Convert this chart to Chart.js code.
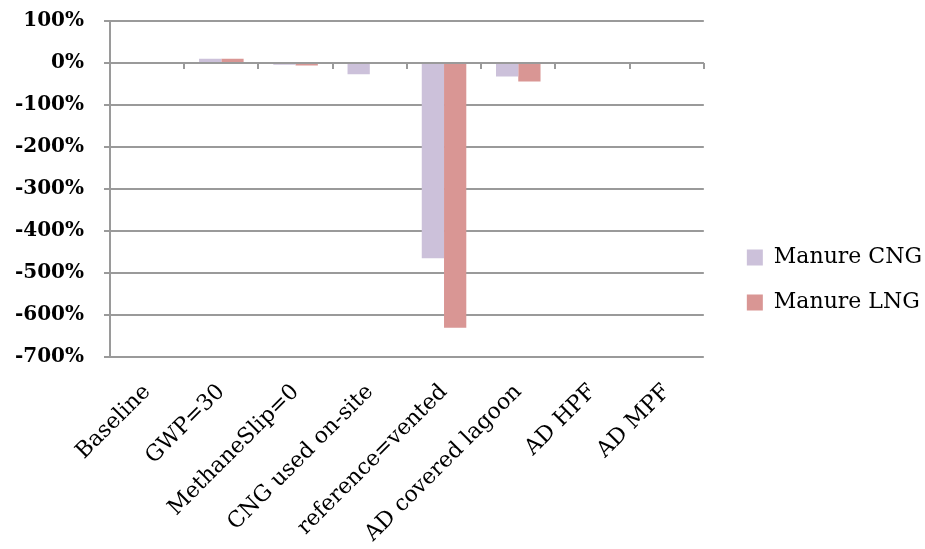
<!DOCTYPE html>
<html>
<head>
<meta charset="utf-8">
<script src="https://cdn.jsdelivr.net/npm/chart.js@4/dist/chart.umd.min.js"></script>
<style>
  html, body { margin: 0; padding: 0; background: #ffffff; }
  #wrap { width: 925px; height: 549px; position: relative; }
</style>
</head>
<body>
<div id="wrap"><canvas id="chart"></canvas></div>
<script>
// Scenario labels along the horizontal axis
const categories = [
  'Baseline', 'GWP=30', 'MethaneSlip=0', 'CNG used on-site',
  'reference=vented', 'AD covered lagoon', 'AD HPF', 'AD MPF'
];
// Percentage change per scenario
const manureCNG = [0, 10, -4, -27, -465, -32, 0, 0];
const manureLNG = [0, 10, -6, 0, -630, -44, 0, 0];
// Value axis ticks (percent)
const yTicks = [100, 0, -100, -200, -300, -400, -500, -600, -700];

const gridColor = '#9a9a9a';
const legendExtraWidth = 13;
const legendShift = 20;
const legendLift = 5;

// Horizontal axis line at zero with small tick marks between categories
const zeroAxis = {
  id: 'zeroAxis',
  afterDatasetsDraw(chart) {
    const { ctx, chartArea, scales: { x, y } } = chart;
    const y0 = y.getPixelForValue(0);
    const n = categories.length;
    const step = (x.right - x.left) / n;
    ctx.save();
    ctx.strokeStyle = gridColor;
    ctx.lineWidth = 2;
    ctx.beginPath();
    ctx.moveTo(chartArea.left, y0);
    ctx.lineTo(chartArea.right, y0);
    for (let i = 0; i <= n; i++) {
      const px = Math.round(x.left + i * step);
      ctx.moveTo(px, y0);
      ctx.lineTo(px, y0 + 6);
    }
    ctx.stroke();
    ctx.restore();
  }
};

// Leaves some white space between the plot and the legend entries
const legendGap = {
  id: 'legendGap',
  afterInit(chart) {
    const legend = chart.legend;
    if (!legend) return;
    const baseFit = legend.fit.bind(legend);
    legend.fit = function () {
      baseFit();
      this.width += legendExtraWidth;
    };
  },
  afterLayout(chart) {
    const legend = chart.legend;
    if (!legend) return;
    legend.left += legendShift;
    legend.top -= legendLift;
    legend.bottom -= legendLift;
  }
};

Chart.defaults.font.family = "'DejaVu Serif', serif";
Chart.defaults.color = '#000000';

new Chart(document.getElementById('chart'), {
  type: 'bar',
  data: {
    labels: categories,
    datasets: [
      { label: 'Manure CNG', data: manureCNG, backgroundColor: '#ccc1da', borderWidth: 0 },
      { label: 'Manure LNG', data: manureLNG, backgroundColor: '#d99694', borderWidth: 0 }
    ]
  },
  options: {
    responsive: true,
    maintainAspectRatio: false,
    animation: false,
    devicePixelRatio: 1,
    layout: { padding: { top: 21, left: 0, right: 0, bottom: 0 } },
    datasets: { bar: { categoryPercentage: 0.6, barPercentage: 1.0 } },
    plugins: {
      tooltip: { enabled: false },
      legend: {
        position: 'right',
        align: 'center',
        labels: {
          boxWidth: 16,
          boxHeight: 16,
          padding: 23,
          font: { size: 22 },
          color: '#000000'
        }
      }
    },
    scales: {
      x: {
        grid: { display: false },
        border: { display: false },
        afterFit(scale) {
          scale.height -= 12;
        },
        ticks: {
          minRotation: 45,
          maxRotation: 45,
          autoSkip: false,
          padding: 14,
          font: { size: 22 },
          color: '#000000'
        }
      },
      y: {
        min: yTicks[yTicks.length - 1],
        max: yTicks[0],
        afterBuildTicks(scale) {
          scale.ticks = yTicks.map(v => ({ value: v }));
        },
        afterFit(scale) {
          scale.paddingTop = 0;
          scale.paddingBottom = 0;
          scale.width = 110;
        },
        grid: {
          color: gridColor,
          lineWidth: 2,
          drawTicks: true,
          tickLength: 6,
          tickColor: gridColor
        },
        border: { display: true, color: gridColor, width: 2 },
        ticks: {
          padding: 20,
          font: { size: 20, weight: 'bold' },
          color: '#000000',
          callback: v => v + '%'
        }
      }
    }
  },
  plugins: [zeroAxis, legendGap]
});
</script>
</body>
</html>
